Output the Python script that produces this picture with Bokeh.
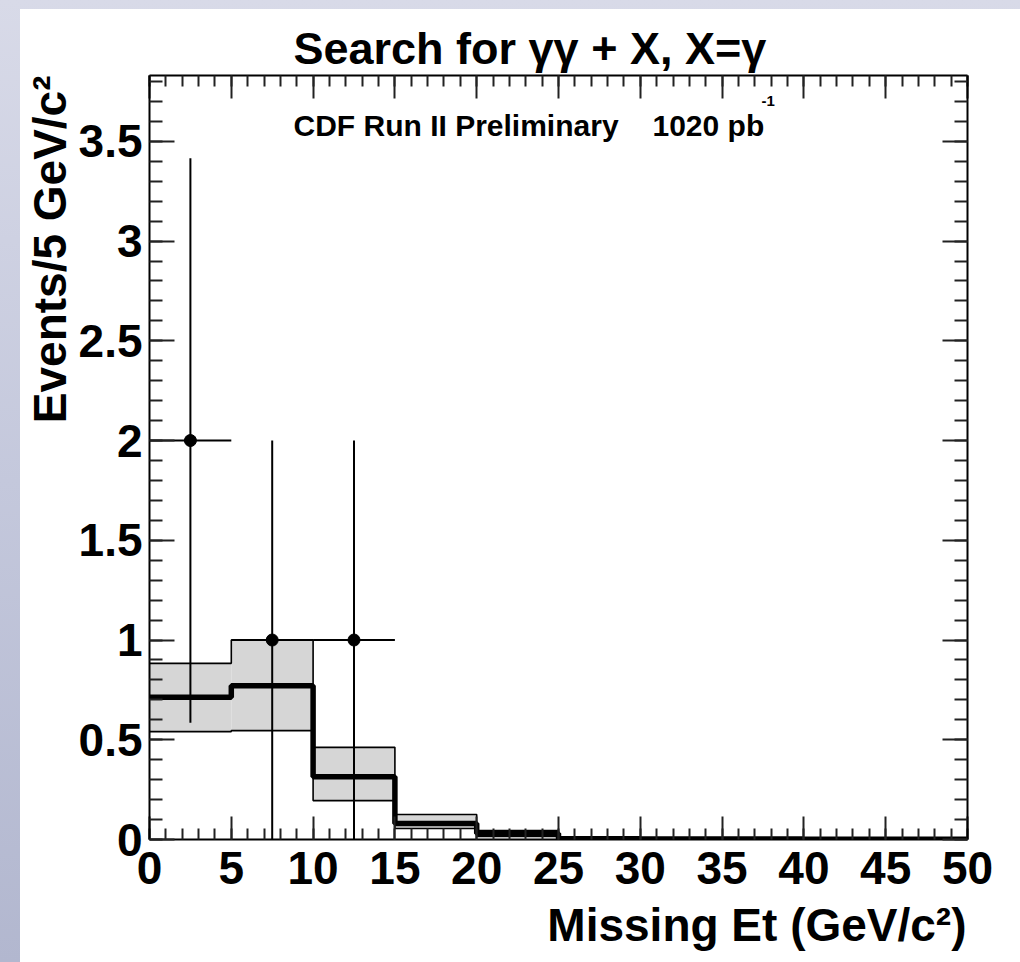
from bokeh.plotting import figure
from bokeh.models import (Range1d, LinearAxis, SingleIntervalTicker, Label, Title,
                          CustomJSTickFormatter)
from bokeh.embed import file_html
from bokeh.resources import INLINE

# ---------------- data ----------------
bin_edges = [0, 5, 10, 15, 20, 25, 30, 35, 40, 45, 50]
bkg_center = [0.713, 0.771, 0.315, 0.080, 0.030, 0.004, 0.003, 0.002, 0.001, 0.001]
bkg_upper = [0.883, 1.000, 0.462, 0.125, 0.045, 0.010, 0.006, 0.004, 0.003, 0.002]
bkg_lower = [0.541, 0.546, 0.195, 0.055, 0.015, 0.001, 0.000, 0.000, 0.000, 0.000]

data_x = [2.5, 7.5, 12.5]
data_y = [2.0, 1.0, 1.0]
data_xlo = [0.0, 5.0, 10.0]
data_xhi = [5.0, 10.0, 15.0]
data_ylo = [0.585, 0.0, 0.0]
data_yhi = [3.415, 2.0, 2.0]

x_ticks = [0, 5, 10, 15, 20, 25, 30, 35, 40, 45, 50]
y_ticks = [0, 0.5, 1, 1.5, 2, 2.5, 3, 3.5]
y_tick_labels = ["0", "0.5", "1", "1.5", "2", "2.5", "3", "3.5"]

title_text = "Search for \u03b3\u03b3 + X, X=\u03b3"
cdf_text = "CDF Run II Preliminary"
lumi_text = "1020 pb"
lumi_sup = "-1"
x_label = "Missing Et (GeV/c\u00b2)"
y_label = "Events/5 GeV/c\u00b2"

X_MIN, X_MAX = 0, 50
Y_MIN, Y_MAX = 0, 3.83

# ---------------- layout geometry (pixels) ----------------
W, H = 1020, 962
FL, FR, FT, FB = 149, 967, 75, 839  # frame edges in window pixels


def dx(px):
    return X_MIN + (px - FL) * (X_MAX - X_MIN) / (FR - FL)


def dy(py):
    return Y_MIN + (FB - py) * (Y_MAX - Y_MIN) / (FB - FT)


FONT = "Liberation Sans"

p = figure(width=W, height=H, output_backend="svg", toolbar_location=None,
           x_range=Range1d(X_MIN, X_MAX), y_range=Range1d(Y_MIN, Y_MAX),
           min_border_left=FL, min_border_right=W - FR,
           min_border_top=FT, min_border_bottom=H - FB,
           x_axis_type=None, y_axis_type=None)
p.border_fill_alpha = 0
p.background_fill_color = "white"
p.outline_line_color = None
p.xgrid.visible = False
p.ygrid.visible = False
p.styles = {
    "background": "linear-gradient(#ffffff, #ffffff) 20px 9px / 1000px 953px no-repeat, "
                  "linear-gradient(to bottom, #d8dae8 0%, #c4c8dc 50%, #b2b7cf 100%)"
}

# title (above the frame)
p.title.text = title_text
p.title.text_font = FONT
p.title.text_font_style = "bold"
p.title.text_font_size = "45px"
p.title.text_color = "black"
p.title.align = "left"
p.title.offset = 293 - FL
p.title.standoff = 4


def style_axis(ax, horizontal, show_labels):
    ax.axis_line_color = "black"
    ax.axis_line_width = 2
    ax.major_tick_line_color = "#222222"
    ax.minor_tick_line_color = "#222222"
    ax.major_tick_line_width = 2
    ax.minor_tick_line_width = 2
    ax.major_tick_out = 0
    ax.minor_tick_out = 0
    if horizontal:
        ax.major_tick_in = 23
        ax.minor_tick_in = 11
    else:
        ax.major_tick_in = 25
        ax.minor_tick_in = 13
    ax.major_label_text_font = FONT
    ax.major_label_text_font_style = "bold"
    ax.major_label_text_font_size = "46px"
    ax.major_label_text_color = "black"
    if not show_labels:
        ax.formatter = CustomJSTickFormatter(code="return ''")
        ax.major_label_text_font_size = "1px"
        ax.major_label_standoff = 0


xt = dict(interval=5, num_minor_ticks=5)
yt = dict(interval=0.5, num_minor_ticks=5)

xb = LinearAxis(ticker=SingleIntervalTicker(**xt))
style_axis(xb, True, True)
xb.major_label_standoff = 12
p.add_layout(xb, "below")

xa = LinearAxis(ticker=SingleIntervalTicker(**xt))
style_axis(xa, True, False)
p.add_layout(xa, "above")

yl = LinearAxis(ticker=SingleIntervalTicker(**yt))
style_axis(yl, False, True)
yl.major_label_overrides = dict(zip(y_ticks, y_tick_labels))
yl.major_label_standoff = 7
p.add_layout(yl, "left")

yr = LinearAxis(ticker=SingleIntervalTicker(**yt))
style_axis(yr, False, False)
p.add_layout(yr, "right")

# axis titles (ROOT style: right / top aligned)
xtitle = Title(text=x_label, text_font=FONT, text_font_style="bold",
               text_font_size="46px", text_color="black", align="right",
               offset=1, standoff=20)
p.add_layout(xtitle, "below")

ytitle = Title(text=y_label, text_font=FONT, text_font_style="bold",
               text_font_size="46px", text_color="black", align="right",
               offset=0, standoff=0)
p.add_layout(ytitle, "left")

# ---------------- background band ----------------
p.quad(left=bin_edges[:-1], right=bin_edges[1:], bottom=bkg_lower, top=bkg_upper,
       fill_color="#d6d6d6", line_color=None)
p.step(x=bin_edges, y=bkg_upper + [bkg_upper[-1]], mode="after",
       line_color="black", line_width=1.6)
p.step(x=bin_edges, y=bkg_lower + [bkg_lower[-1]], mode="after",
       line_color="black", line_width=1.6)
p.step(x=bin_edges, y=bkg_center + [bkg_center[-1]], mode="after",
       line_color="black", line_width=5.5)

# ---------------- data points ----------------
p.segment(x0=data_x, x1=data_x, y0=data_ylo, y1=data_yhi,
          line_color="black", line_width=2)
p.segment(x0=data_xlo, x1=data_xhi, y0=data_y, y1=data_y,
          line_color="black", line_width=2)
p.scatter(x=data_x, y=data_y, size=12, marker="circle",
          fill_color="black", line_color="black")

# ---------------- texts inside the frame ----------------
def add_text(txt, px, py, size, bold=True, align="left"):
    lab = Label(x=dx(px), y=dy(py), text=txt, text_font=FONT,
                text_font_size=f"{size}px",
                text_font_style="bold" if bold else "normal",
                text_color="black", text_align=align,
                text_baseline="alphabetic")
    p.add_layout(lab)


add_text(cdf_text, 293, 125, 30)
add_text(lumi_text, 652, 125, 30)
add_text(lumi_sup, 761, 100, 15)

open("out.html", "w").write(file_html(p, INLINE))
